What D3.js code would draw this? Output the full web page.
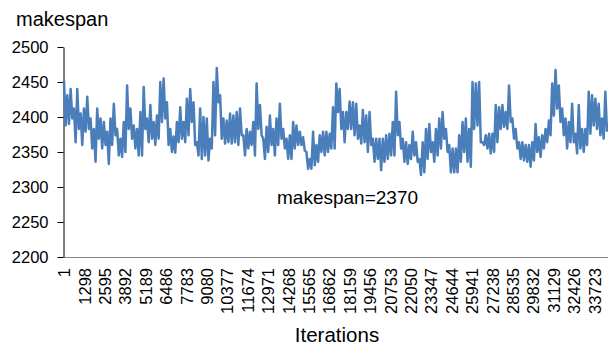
<!DOCTYPE html>
<html><head><meta charset="utf-8">
<script src="https://cdn.jsdelivr.net/npm/d3@7"></script>
<style>
body{margin:0;background:#fff}
svg{display:block}
text{font-family:"Liberation Sans",Arial,sans-serif;fill:#000}
</style>
</head><body>
<svg id="chart" width="608" height="349"></svg>
<script>
// ---- data ----
const yTicks = [2200, 2250, 2300, 2350, 2400, 2450, 2500];
const xTickLabels = [1, 1298, 2595, 3892, 5189, 6486, 7783, 9080, 10377, 11674, 12971, 14268, 15565, 16862, 18159, 19456, 20753, 22050, 23347, 24644, 25941, 27238, 28535, 29832, 31129, 32426, 33723];
const totalIterations = 34524;
const yTitle = "makespan";
const xTitle = "Iterations";
const noteText = "makespan=2370";
// makespan samples, evenly spaced over the iterations (local high / low)
const makespan = [
  2452, 2388, 2431, 2390, 2440, 2398, 2412, 2364, 2440, 2383, 2405, 2360, 2412, 2379, 2429, 2383,
  2398, 2355, 2383, 2336, 2412, 2369, 2398, 2355, 2393, 2360, 2379, 2333, 2398, 2360, 2419, 2374,
  2383, 2345, 2369, 2343, 2393, 2350, 2445, 2383, 2412, 2369, 2388, 2355, 2383, 2345, 2407, 2345,
  2443, 2383, 2398, 2364, 2417, 2369, 2393, 2360, 2402, 2369, 2450, 2393, 2455, 2398, 2421, 2360,
  2383, 2350, 2372, 2349, 2393, 2364, 2414, 2369, 2393, 2364, 2426, 2374, 2440, 2393, 2421, 2360,
  2364, 2345, 2412, 2340,
  2400, 2345, 2398, 2338, 2369, 2355, 2450, 2374, 2470, 2421, 2431, 2369, 2398, 2362, 2395, 2364,
  2405, 2362, 2402, 2364, 2407, 2360, 2412, 2374, 2374, 2345, 2383, 2355, 2379, 2360, 2393, 2345,
  2448, 2383, 2417, 2374, 2369, 2340, 2386, 2350, 2402, 2360, 2383, 2345, 2398, 2360, 2419, 2369,
  2383, 2355, 2369, 2340, 2374, 2340, 2393, 2355, 2388, 2360, 2379, 2360, 2371, 2352, 2350, 2326,
  2340, 2326, 2379, 2331, 2360, 2336, 2374, 2350, 2379, 2345, 2379, 2350, 2376, 2355, 2414, 2355,
  2448, 2407, 2440, 2383, 2407, 2364, 2407, 2383, 2422, 2383, 2421, 2374, 2419, 2369, 2388, 2362,
  2410, 2364, 2402, 2350, 2407, 2360, 2369, 2336, 2369, 2340, 2369, 2324, 2369, 2336, 2374, 2340,
  2376, 2345, 2393, 2345, 2436, 2374, 2393, 2355, 2369, 2336, 2364, 2333, 2360, 2340, 2379, 2345,
  2364, 2336, 2340, 2317, 2364, 2321, 2383, 2340, 2390, 2350, 2364, 2336, 2383, 2345, 2398, 2355,
  2407, 2369, 2383, 2350, 2360, 2321, 2355, 2321, 2355, 2321, 2374, 2336, 2393, 2350, 2398, 2336,
  2383, 2329, 2450, 2383, 2448, 2388, 2450, 2364, 2364, 2360, 2374, 2355, 2376, 2348, 2376, 2350,
  2417, 2364, 2414, 2383, 2417, 2386, 2407, 2383, 2445, 2393, 2398, 2369, 2383, 2355, 2364, 2340,
  2364, 2338, 2360, 2336, 2360, 2329, 2364, 2338, 2390, 2350, 2371, 2343, 2374, 2355, 2383, 2364,
  2395, 2374, 2448, 2402, 2467, 2412, 2445, 2393, 2412, 2374, 2398, 2355, 2393, 2364, 2419, 2364,
  2376, 2348, 2417, 2355, 2383, 2350, 2383, 2360, 2436, 2376, 2431, 2388, 2426, 2383, 2419, 2374,
  2398, 2369, 2436, 2379
];

// ---- chart ----
const svg = d3.select("#chart");
const x = d3.scaleLinear().domain([1, totalIterations]).range([64, 607]);
const y = d3.scaleLinear().domain([2200, 2500]).range([257, 47]);
const n = makespan.length;
const iterAt = i => 1 + i * (totalIterations - 1) / (n - 1);

// x axis line
svg.append("line")
  .attr("x1", 63.5).attr("x2", 608).attr("y1", y(2200) + 0.5).attr("y2", y(2200) + 0.5)
  .attr("stroke", "#868686").attr("stroke-width", 1);

// y axis
const yAxis = d3.axisLeft(y).tickValues(yTicks).tickSizeInner(6).tickSizeOuter(0).tickPadding(9)
  .tickFormat(d3.format("d"));
const gy = svg.append("g").attr("transform", "translate(63.5,0)").call(yAxis);
gy.select(".domain").attr("stroke", "#000");
gy.selectAll(".tick line").attr("stroke", "#000");
gy.selectAll(".tick text").attr("font-size", 16.5).attr("font-family", '"Liberation Sans", Arial, sans-serif').attr("fill", "#000");

// x tick labels (rotated)
svg.append("g").selectAll("text").data(xTickLabels).join("text")
  .attr("transform", d => `translate(${x(d) + 0.5},268) rotate(-90)`)
  .attr("text-anchor", "end")
  .attr("dy", "0.35em")
  .attr("font-size", 16.5)
  .text(d => d);

// line
const line = d3.line().x((d, i) => x(iterAt(i))).y(d => y(d));
svg.append("path").datum(makespan)
  .attr("d", line)
  .attr("fill", "none")
  .attr("stroke", "#4a7ebb")
  .attr("stroke-width", 2.5)
  .attr("stroke-linejoin", "round");

// titles
svg.append("text").attr("x", 16).attr("y", 26).attr("font-size", 20).text(yTitle);
svg.append("text").attr("x", 337).attr("y", 342).attr("text-anchor", "middle").attr("font-size", 20.5).text(xTitle);
svg.append("text").attr("x", 277).attr("y", 204).attr("font-size", 19).text(noteText);
</script>
</body></html>
